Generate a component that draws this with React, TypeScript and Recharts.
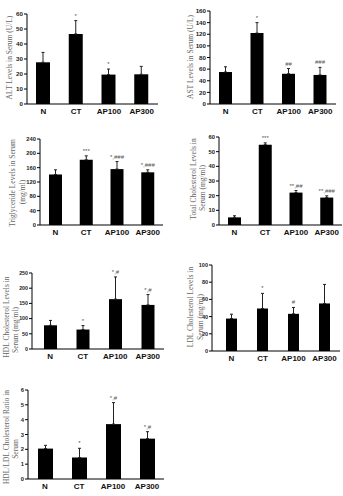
import React from "react";
import { BarChart, Bar, XAxis, YAxis, ErrorBar, LabelList } from "recharts";

const groups = ["N", "CT", "AP100", "AP300"];

// ALT (U/L)
const altMean = [27.8, 46.7, 19.6, 19.8];
const altErr = [6.6, 8.9, 3.7, 5.3];
const altNote = ["", "*", "*", ""];

// AST (U/L)
const astMean = [55, 122, 52, 50];
const astErr = [9, 18, 9, 13];
const astNote = ["", "*", "##", "###"];

// Triglyceride (mg/ml)
const tgMean = [141, 182, 156, 147];
const tgErr = [13, 11, 21, 7];
const tgNote = ["", "***", "*,###", "*,###"];

// Total cholesterol (mg/ml)
const tcMean = [5.2, 54.8, 22.1, 18.7];
const tcErr = [1.1, 1.2, 1.4, 1.2];
const tcNote = ["", "***", "**,##", "**,###"];

// HDL cholesterol (mg/ml)
const hdlMean = [78, 64, 164, 145];
const hdlErr = [16, 13, 73, 34];
const hdlNote = ["", "*", "*,#", "*,#"];

// LDL cholesterol (mg/ml)
const ldlMean = [37.7, 49.4, 43.2, 55.3];
const ldlErr = [5.1, 17.6, 7.4, 22.1];
const ldlNote = ["", "*", "#", ""];

// HDL/LDL ratio
const ratioMean = [2.05, 1.45, 3.7, 2.72];
const ratioErr = [0.22, 0.62, 1.45, 0.47];
const ratioNote = ["", "*", "*,#", "*,#"];

type Row = { group: string; mean: number; err: number; range: number[]; note: string };

function rows(mean: number[], err: number[], note: string[]): Row[] {
  return groups.map((g, i) => ({
    group: g,
    mean: mean[i],
    err: err[i],
    range: [0, err[i]],
    note: note[i],
  }));
}

type PanelProps = {
  left: number;
  top: number;
  width: number;
  height: number;
  axisW: number;
  padTop: number;
  padLeft?: number;
  barSize: number;
  max: number;
  ticks: number[];
  tickFont?: number;
  data: Row[];
  label: string[];
  labelX: number;
  labelY: number;
  lineGap?: number;
  lineShift?: number;
};

const sans = "'Liberation Sans', Arial, sans-serif";
const serif = "'Liberation Serif', 'Times New Roman', serif";

function Panel(p: PanelProps) {
  const renderNote = (props: any) => {
    const { x, y, width, height, index, value } = props;
    if (!value || index == null) return null;
    const row = p.data[index];
    const perUnit = row.mean ? height / row.mean : 0;
    const tipY = Number(y) - row.err * perUnit;
    return (
      <text
        x={Number(x) + Number(width) / 2}
        y={tipY - 3}
        textAnchor="middle"
        fontSize={6}
        fontFamily={sans}
        fill="#555"
      >
        {value}
      </text>
    );
  };

  const gap = p.lineGap ?? 9;
  const shift = p.lineShift ?? 10;

  return (
    <div style={{ position: "absolute", left: p.left, top: p.top, width: p.width, height: p.height }}>
      <BarChart
        width={p.width}
        height={p.height}
        data={p.data}
        margin={{ top: p.padTop, right: 0, bottom: 0, left: 0 }}
      >
        <XAxis
          dataKey="group"
          height={16}
          interval={0}
          tickLine={false}
          tickSize={2}
          padding={{ left: p.padLeft ?? 0, right: 0 }}
          stroke="#000"
          tick={{ fontSize: 8, fontWeight: 700, fill: "#111", fontFamily: sans }}
        />
        <YAxis
          width={p.axisW}
          domain={[0, p.max]}
          ticks={p.ticks}
          interval={0}
          tickSize={3}
          tickMargin={1}
          stroke="#000"
          tick={{ fontSize: p.tickFont ?? 6.2, fontWeight: 700, fill: "#222", fontFamily: sans }}
        />
        <Bar dataKey="mean" fill="#000" barSize={p.barSize} isAnimationActive={false}>
          <ErrorBar dataKey="range" direction="y" width={1.5} stroke="#222" strokeWidth={1} />
          <LabelList dataKey="note" content={renderNote} />
        </Bar>
      </BarChart>
      <svg
        width={p.width}
        height={p.height}
        style={{ position: "absolute", left: 0, top: 0, pointerEvents: "none" }}
      >
        {p.label.map((line, i) => (
          <text
            key={i}
            transform={`translate(${p.labelX - p.left + i * gap},${p.labelY - p.top + i * shift}) rotate(-90)`}
            textAnchor="middle"
            fontSize={7.5}
            fontFamily={serif}
            fill="#666"
          >
            {line}
          </text>
        ))}
      </svg>
    </div>
  );
}

export default function App() {
  return (
    <div
      style={{
        position: "absolute",
        left: 0,
        top: 0,
        width: 343,
        height: 496,
        background: "#fff",
        overflow: "hidden",
      }}
    >
      <Panel
        left={0} top={0} width={158} height={120} axisW={27} padTop={14} barSize={14}
        max={60} ticks={[0, 10, 20, 30, 40, 50, 60]}
        data={rows(altMean, altErr, altNote)}
        label={["ALT Levels in Serum (U/L)"]} labelX={11.5} labelY={57.5}
      />
      <Panel
        left={170} top={0} width={166} height={120} axisW={40} padTop={11} barSize={13}
        max={160} ticks={[0, 20, 40, 60, 80, 100, 120, 140, 160]}
        data={rows(astMean, astErr, astNote)}
        label={["AST Levels in Serum (U/L)"]} labelX={192.5} labelY={57}
      />
      <Panel
        left={0} top={125} width={163} height={116} axisW={40} padTop={14} barSize={13}
        max={240} ticks={[0, 40, 80, 120, 160, 200, 240]} tickFont={5.8}
        data={rows(tgMean, tgErr, tgNote)}
        label={["Triglyceride Levels in Serum", "(mg/ml)"]} labelX={15} labelY={183}
        lineGap={9.5} lineShift={9}
      />
      <Panel
        left={170} top={125} width={172} height={116} axisW={49} padTop={12} barSize={13}
        max={60} ticks={[0, 10, 20, 30, 40, 50, 60]} tickFont={5.8}
        data={rows(tcMean, tcErr, tcNote)}
        label={["Total Cholesterol Levels in", "Serum (mg/ml)"]} labelX={195.5} labelY={179}
        lineGap={9.5} lineShift={9}
      />
      <Panel
        left={0} top={260} width={164} height={105} axisW={32} padTop={13} padLeft={2} barSize={13}
        max={250} ticks={[0, 50, 100, 150, 200, 250]} tickFont={5.3}
        data={rows(hdlMean, hdlErr, hdlNote)}
        label={["HDL Cholesterol Levels in", "Serum (mg/ml)"]} labelX={9} labelY={317}
        lineGap={8.5} lineShift={13}
      />
      <Panel
        left={170} top={250} width={170} height={117} axisW={42} padTop={15} padLeft={4} barSize={11}
        max={100} ticks={[0, 20, 40, 60, 80, 100]} tickFont={5.5}
        data={rows(ldlMean, ldlErr, ldlNote)}
        label={["LDL Cholesterol Levels in", "Serum (mg/ml)"]} labelX={193} labelY={307}
        lineGap={9.5} lineShift={10}
      />
      <Panel
        left={0} top={375} width={164} height={120} axisW={28} padTop={15} barSize={15}
        max={6} ticks={[0, 1, 2, 3, 4, 5, 6]} tickFont={5.8}
        data={rows(ratioMean, ratioErr, ratioNote)}
        label={["HDL/LDL Cholesterol Ratio in", "Serum"]} labelX={9} labelY={437}
        lineGap={8.5} lineShift={12}
      />
    </div>
  );
}
